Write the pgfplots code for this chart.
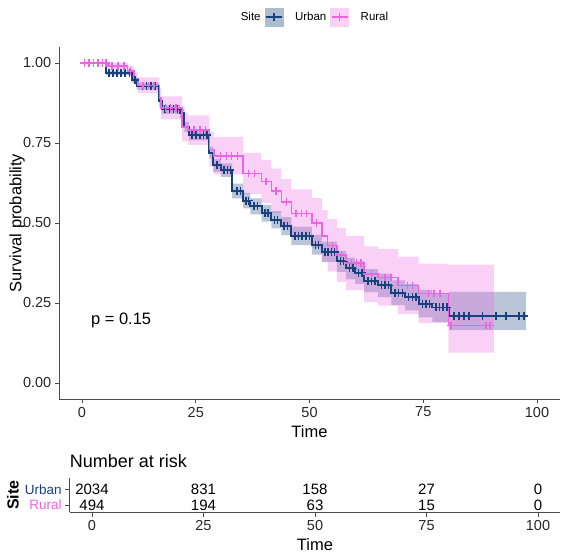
\documentclass[border=0pt]{standalone}
\usepackage{pgfplots}
\usepackage{pgfplotstable}
\pgfplotsset{compat=1.18}
\usepgfplotslibrary{fillbetween}
\usepackage{fontspec}
\setmainfont{Liberation Sans}

\definecolor{urban}{RGB}{25,65,125}
\definecolor{rural}{RGB}{236,100,226}

% Kaplan-Meier estimates with 95% confidence limits
\pgfplotstableread{
t s lo hi
0 1.000 1.000 1.000
5.3 0.970 0.963 0.977
11.0 0.947 0.938 0.956
12.0 0.928 0.917 0.939
17.0 0.880 0.867 0.893
17.5 0.855 0.841 0.869
21.5 0.843 0.828 0.858
22.5 0.800 0.784 0.816
23.5 0.775 0.758 0.792
28.0 0.720 0.701 0.739
28.8 0.680 0.660 0.700
30.5 0.665 0.644 0.686
33.0 0.600 0.577 0.623
35.4 0.570 0.546 0.594
37.0 0.552 0.527 0.577
39.5 0.530 0.504 0.556
41.6 0.510 0.483 0.537
43.8 0.490 0.462 0.518
46.0 0.460 0.431 0.489
50.5 0.432 0.401 0.463
52.7 0.410 0.378 0.442
56.0 0.380 0.347 0.413
58.0 0.358 0.324 0.392
60.0 0.345 0.310 0.380
62.0 0.320 0.284 0.356
65.0 0.305 0.268 0.342
68.0 0.282 0.243 0.321
71.0 0.268 0.227 0.309
74.0 0.248 0.205 0.291
77.0 0.236 0.191 0.281
80.7 0.210 0.165 0.285
97.6 0.210 0.165 0.285
}\urbantab

\pgfplotstableread{
t s lo hi
0 1.000 1.000 1.000
5.7 0.990 0.980 1.000
10.0 0.975 0.960 0.990
11.4 0.950 0.930 0.970
12.3 0.930 0.905 0.955
17.0 0.890 0.858 0.922
17.4 0.860 0.824 0.896
22.0 0.800 0.756 0.844
23.3 0.790 0.744 0.836
28.0 0.730 0.676 0.784
29.0 0.710 0.652 0.768
35.4 0.655 0.591 0.719
39.4 0.630 0.563 0.697
41.6 0.600 0.530 0.670
43.8 0.565 0.493 0.637
46.0 0.530 0.455 0.605
50.5 0.500 0.422 0.578
52.7 0.460 0.380 0.540
54.0 0.430 0.348 0.512
56.0 0.400 0.316 0.484
58.0 0.375 0.290 0.460
62.0 0.340 0.253 0.427
65.0 0.330 0.242 0.418
69.5 0.305 0.215 0.395
74.0 0.280 0.187 0.373
80.5 0.180 0.095 0.370
90.5 0.180 0.095 0.370
}\ruraltab

% censored observations
\pgfplotstableread{
t s
5.9 0.970
6.8 0.970
7.7 0.970
8.6 0.970
9.5 0.970
10.4 0.970
11.6 0.947
13.3 0.928
14.2 0.928
15.1 0.928
16.0 0.928
18.3 0.855
19.2 0.855
20.1 0.855
21.0 0.855
24.2 0.775
25.0 0.775
25.9 0.775
26.7 0.775
27.5 0.775
29.7 0.680
31.2 0.665
32.0 0.665
32.6 0.665
34.0 0.600
34.8 0.600
36.0 0.570
36.6 0.570
37.8 0.552
38.6 0.552
40.2 0.530
40.9 0.530
42.3 0.510
43.0 0.510
44.4 0.490
45.2 0.490
46.8 0.460
47.6 0.460
48.4 0.460
49.2 0.460
50.0 0.460
51.3 0.432
52.0 0.432
53.4 0.410
54.1 0.410
54.8 0.410
55.5 0.410
56.8 0.380
57.5 0.380
58.8 0.358
59.5 0.358
60.8 0.345
61.5 0.345
62.8 0.320
63.6 0.320
64.4 0.320
65.8 0.305
66.6 0.305
67.4 0.305
68.8 0.282
69.6 0.282
70.4 0.282
71.8 0.268
72.6 0.268
73.4 0.268
74.8 0.248
75.6 0.248
76.4 0.248
77.8 0.236
78.6 0.236
79.4 0.236
80.2 0.236
81.8 0.210
82.9 0.210
84.0 0.210
85.0 0.210
88.0 0.210
91.0 0.210
93.2 0.210
96.0 0.210
97.2 0.210
}\urbancens

\pgfplotstableread{
t s
0.5 1.000
1.5 1.000
2.5 1.000
3.5 1.000
4.5 1.000
5.3 1.000
6.6 0.990
7.9 0.990
9.2 0.990
10.7 0.975
13.4 0.930
14.6 0.930
15.8 0.930
18.4 0.860
19.5 0.860
20.7 0.860
24.6 0.790
25.9 0.790
27.1 0.790
30.4 0.710
31.7 0.710
32.9 0.710
34.2 0.710
36.6 0.655
37.9 0.655
40.4 0.630
42.6 0.600
44.9 0.565
47.0 0.530
48.3 0.530
49.4 0.530
51.6 0.500
55.0 0.430
57.0 0.400
59.2 0.375
60.3 0.375
61.3 0.375
63.6 0.340
66.6 0.330
67.9 0.330
71.6 0.305
72.7 0.305
76.1 0.280
77.4 0.280
78.7 0.280
81.1 0.180
88.8 0.180
89.7 0.180
}\ruralcens

% number at risk
\pgfplotstableread{
t row n
0 2 2034
25 2 831
50 2 158
75 2 27
100 2 0
}\urbanrisk
\pgfplotstableread{
t row n
0 1 494
25 1 194
50 1 63
75 1 15
100 1 0
}\ruralrisk

\newcommand{\fs}[1]{\fontsize{#1bp}{1.2\dimexpr#1bp\relax}\selectfont}

\pgfplotsset{
  /pgf/number format/assume math mode=true,
  km/.style={
    scale only axis,
    axis x line*=bottom, axis y line*=left,
    axis line style={black!70, line width=0.9bp, -},
    tick align=outside,
    major tick length=4.5bp,
    tick style={black!70, line width=0.9bp},
    ticklabel style={font=\fs{14.5}, text=black!85},
    label style={font=\fs{16.5}},
    xmin=-5, xmax=105,
    xtick={0,25,50,75,100},
    minor tick num=0,
  },
}

\begin{document}
\begin{tikzpicture}

% survival curves
\begin{axis}[km,
  at={(59.25bp,158bp)}, anchor=south west,
  width=500.5bp, height=352bp,
  ymin=-0.05, ymax=1.05,
  ytick={0,0.25,0.5,0.75,1},
  yticklabels={0.00,0.25,0.50,0.75,1.00},
  xlabel={Time}, ylabel={Survival probability},
  xlabel style={at={(axis description cs:0.5,-0.094)}, anchor=center},
  ylabel style={at={(axis description cs:-0.0844,0.5)}, anchor=center},
  legend columns=-1,
  legend style={at={(0.5,1.085)}, anchor=center, draw=none, fill=none,
    font=\fs{11.5},
    /tikz/every even column/.append style={column sep=2bp},
    /tikz/every odd column/.append style={column sep=10bp}},
]
% confidence bands
\addplot[name path=uhi, draw=none, const plot, forget plot] table[x=t, y=hi] {\urbantab};
\addplot[name path=ulo, draw=none, const plot, forget plot] table[x=t, y=lo] {\urbantab};
\addplot[urban, fill opacity=0.3, draw=none, forget plot] fill between[of=uhi and ulo];
\addplot[name path=rhi, draw=none, const plot, forget plot] table[x=t, y=hi] {\ruraltab};
\addplot[name path=rlo, draw=none, const plot, forget plot] table[x=t, y=lo] {\ruraltab};
\addplot[rural, fill opacity=0.3, draw=none, forget plot] fill between[of=rhi and rlo];

% step curves
\addplot[urban, line width=1.9bp, const plot, forget plot] table[x=t, y=s] {\urbantab};
\addplot[rural, line width=1.5bp, const plot, forget plot] table[x=t, y=s] {\ruraltab};

% censoring ticks
\addplot[urban, only marks, mark=+, mark size=4bp, mark options={line width=1.6bp}, forget plot] table[x=t, y=s] {\urbancens};
\addplot[rural, only marks, mark=+, mark size=3.8bp, mark options={line width=1.4bp}, forget plot] table[x=t, y=s] {\ruralcens};

\node[font=\fs{16.5}, text=black] at (axis cs:8.6,0.195) {p = 0.15};

\addlegendimage{empty legend}
\addlegendentry{Site}
\addlegendimage{legend image code/.code={
  \fill[urban!35] (0bp,-9bp) rectangle (18bp,9bp);
  \draw[urban, line width=1.8bp] (1bp,0bp) -- (17bp,0bp);
  \draw[urban, line width=1.5bp] (9bp,-4bp) -- (9bp,4bp);}}
\addlegendentry{Urban}
\addlegendimage{legend image code/.code={
  \fill[rural!30] (0bp,-9bp) rectangle (18bp,9bp);
  \draw[rural, line width=1.5bp] (1bp,0bp) -- (17bp,0bp);
  \draw[rural, line width=1.3bp] (9bp,-4bp) -- (9bp,4bp);}}
\addlegendentry{Rural}
\end{axis}

% risk table
\begin{axis}[km,
  at={(69.7bp,44.7bp)}, anchor=south west,
  width=490.6bp, height=34.3bp,
  ymin=0.535, ymax=2.72,
  ytick={1,2},
  yticklabels={\textcolor{rural}{Rural},\textcolor{urban}{Urban}},
  yticklabel style={font=\fs{13.5}},
  xlabel={Time}, ylabel={Site},
  xlabel style={at={(axis description cs:0.5,-0.953)}, anchor=center},
  ylabel style={at={(axis description cs:-0.116,0.5)}, anchor=center, font=\fs{16}\bfseries},
  title={Number at risk},
  title style={at={(axis description cs:0,1)}, anchor=base west, yshift=5bp, inner sep=0pt, font=\fs{18}},
  every node near coord/.append style={anchor=center, font=\fs{15}, text=black},
]
\addplot[draw=none, nodes near coords, point meta=explicit symbolic] table[x=t, y=row, meta=n] {\urbanrisk};
\addplot[draw=none, nodes near coords, point meta=explicit symbolic] table[x=t, y=row, meta=n] {\ruralrisk};
\end{axis}

\path (0,0) rectangle (566bp,557bp);
\end{tikzpicture}
\end{document}
